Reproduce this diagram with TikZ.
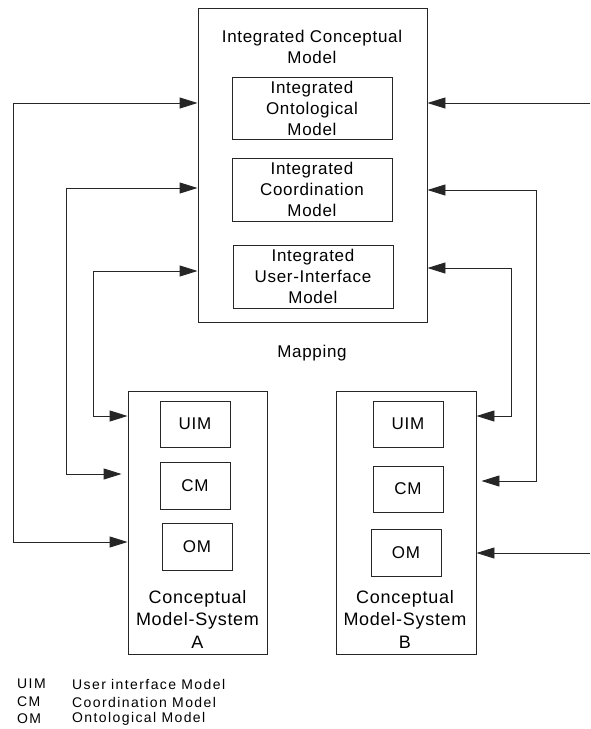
\documentclass[tikz,border=0pt]{standalone}
\usepackage{fontspec}
\setmainfont{Liberation Sans}
\newfontfamily\diagfont[LetterSpace=4]{Liberation Sans}
\newfontfamily\keyfont[LetterSpace=10]{Liberation Sans}
\usetikzlibrary{arrows.meta}

\begin{document}
\begin{tikzpicture}[x=1pt, y=-1pt,
        frame/.style={rectangle, draw=black!85, line width=0.9pt, inner sep=0pt},
        part/.style={frame, align=center, font=\diagfont\fontsize{17}{21}\selectfont},
        boxtitle/.style={align=center, inner sep=0pt, font=\diagfont\fontsize{17}{21}\selectfont},
        systitle/.style={align=center, inner sep=0pt, font=\diagfont\fontsize{18}{22.5}\selectfont},
        legendtext/.style={anchor=west, inner sep=0pt, font=\keyfont\fontsize{14}{17.5}\selectfont},
        link/.style={line width=0.9pt, black!85, -{Triangle[length=18pt,width=11pt]}},
        both/.style={link, {Triangle[length=18pt,width=11pt]}-{Triangle[length=18pt,width=11pt]}}
    ]
        \useasboundingbox (0,0) rectangle (590,729);

        % integrated model
        \node[frame, minimum width=229pt, minimum height=314pt] (integ) at (312.5,165) {};
        \node[boxtitle] (integtitle) at (312,47) {Integrated Conceptual\\Model};
        \node[part, minimum width=160pt, minimum height=62pt] (iom) at (312,108) {Integrated\\Ontological\\Model};
        \node[part, minimum width=160pt, minimum height=63pt] (icm) at (312,189.5) {Integrated\\Coordination\\Model};
        \node[part, minimum width=160pt, minimum height=63pt] (iuim) at (313,276.5) {Integrated\\User-Interface\\Model};
        \node[boxtitle] (mapping) at (312,353) {Mapping};

        % system A
        \node[frame, minimum width=139pt, minimum height=263pt] (sysA) at (197.5,522.5) {};
        \node[part, minimum width=70pt, minimum height=46pt] (uimA) at (195,424) {UIM};
        \node[part, minimum width=70pt, minimum height=47pt] (cmA) at (195,485.5) {CM};
        \node[part, minimum width=70pt, minimum height=47pt] (omA) at (197,546.5) {OM};
        \node[systitle] (sysAtitle) at (197.5,619) {Conceptual\\Model-System\\A};

        % system B
        \node[frame, minimum width=140pt, minimum height=263pt] (sysB) at (406,522.5) {};
        \node[part, minimum width=70pt, minimum height=46pt] (uimB) at (408,424) {UIM};
        \node[part, minimum width=70pt, minimum height=46pt] (cmB) at (408,489) {CM};
        \node[part, minimum width=70pt, minimum height=47pt] (omB) at (406,552.5) {OM};
        \node[systitle] (sysBtitle) at (405,619) {Conceptual\\Model-System\\B};

        % bends of the connectors
        \coordinate (lo1) at (13,103);  \coordinate (lo2) at (13,542);
        \coordinate (lc1) at (66,188);  \coordinate (lc2) at (66,474);
        \coordinate (lu1) at (93,271);  \coordinate (lu2) at (93,416);
        \coordinate (rc1) at (536,190); \coordinate (rc2) at (536,481);
        \coordinate (ru1) at (511,268); \coordinate (ru2) at (511,416);
        \coordinate (ro1) at (590,103); \coordinate (ro2) at (590,553);

        \draw[both] (integ.west |- lo1) -- (lo1) -- (lo2) -- (sysA.west |- lo2);
        \draw[both, shorten >=6pt] (integ.west |- lc1) -- (lc1) -- (lc2) -- (sysA.west |- lc2);
        \draw[both] (integ.west |- lu1) -- (lu1) -- (lu2) -- (sysA.west |- lu2);
        \draw[both, shorten >=5pt] (integ.east |- rc1) -- (rc1) -- (rc2) -- (sysB.east |- rc2);
        \draw[both] (integ.east |- ru1) -- (ru1) -- (ru2) -- (sysB.east |- ru2);
        \draw[link] (ro1) -- (integ.east |- ro1);
        \draw[link] (ro2) -- (sysB.east |- ro2);

        % legend
        \node[legendtext] (keyuim) at (17,684) {UIM};
        \node[legendtext] (keyuimtext) at (72,684) {User interface Model};
        \node[legendtext] (keycm) at (17,702) {CM};
        \node[legendtext] (keycmtext) at (72,702) {Coordination Model};
        \node[legendtext] (keyom) at (17,719) {OM};
        \node[legendtext] (keyomtext) at (72,719) {Ontological Model};
    \end{tikzpicture}
\end{document}
